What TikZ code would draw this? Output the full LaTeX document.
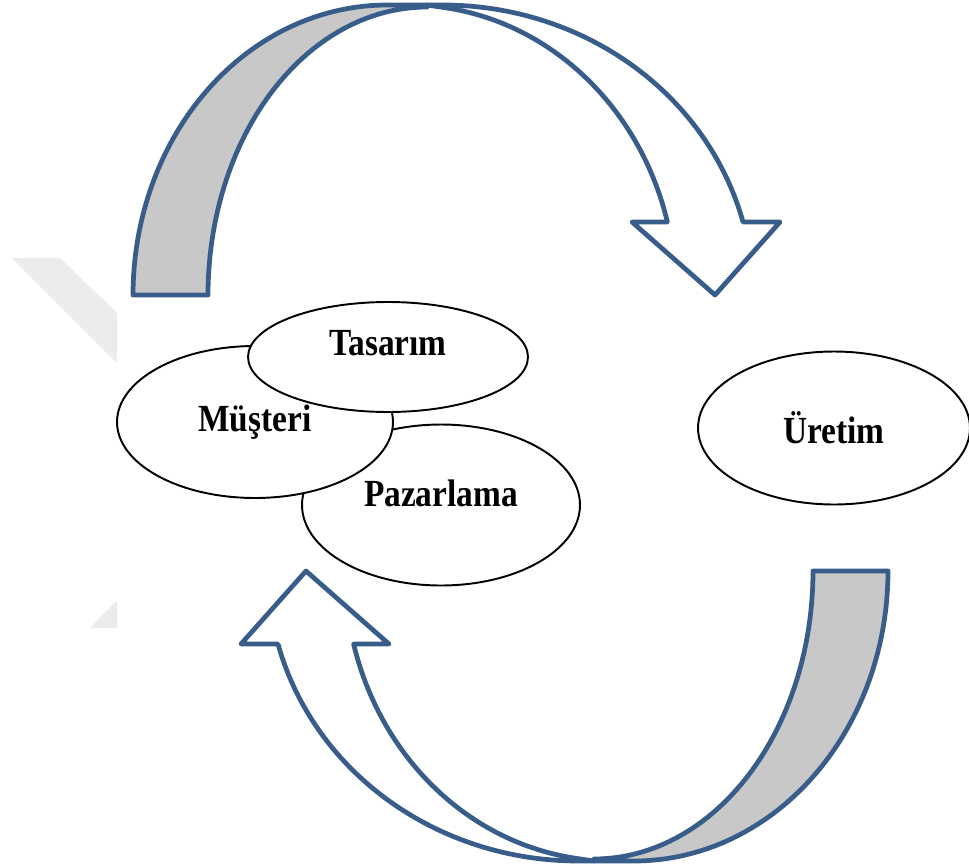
\documentclass[tikz,border=0pt]{standalone}
\usepackage{fontspec}
\setmainfont{Liberation Serif}
\usepackage{graphicx}
\usepackage{tikz}
\usetikzlibrary{shapes.geometric}

\definecolor{arrowblue}{RGB}{56,93,138}
\definecolor{bandgray}{RGB}{200,200,200}
\definecolor{markgray}{RGB}{236,236,236}

\newcommand{\tall}[1]{\scalebox{1}[1.15]{#1}}

% one curved band arrow, the other one is this turned round
\newcommand{\bandarrow}{%
    \draw [band, fill = bandgray] plot [domain = 180:90, variable = \t, samples = 50]
    ({387+254*cos(\t)}, {295-290*sin(\t)}) -- (427,5)
    -- plot [domain = 90:180, variable = \t, samples = 50]
    ({427+219*cos(\t)}, {295-288*sin(\t)}) -- cycle;
    \draw [band, fill = white] (427,5)
    -- plot [domain = 90:14.6, variable = \t, samples = 60]
    ({443+310*cos(\t)}, {295-290*sin(\t)})
    -- (780,222) -- (715,295) -- (632,222)
    -- plot [domain = 14.6:82.7, variable = \t, samples = 60]
    ({409+267*cos(\t)}, {295-290*sin(\t)}) -- cycle;
}

\begin{document}
\begin{tikzpicture}[x = 0.02cm, y = -0.02cm,
    band/.style = {draw = arrowblue, line width = 2.7pt, line join = round},
    oval/.style = {ellipse, draw, fill = white, line width = 1.1pt, inner sep = 0pt,
        font = \fontsize{19}{21}\selectfont\bfseries}]
                \useasboundingbox (0,0) rectangle (969,865);

                \fill [markgray] (12,258) -- (60,258) -- (117,313) -- (117,363) -- cycle;
                \fill [markgray] (117,600) -- (117,628) -- (90,628) -- cycle;

                \bandarrow
                \begin{scope}[rotate around = {180:(510.5,433)}]
                    \bandarrow
                \end{scope}

                \node [oval, minimum width = 5.56cm, minimum height = 3.22cm]
                (pazarlama) at (441,505) {\raisebox{0.48cm}{\tall{Pazarlama}}};
                \node [oval, minimum width = 5.52cm, minimum height = 3.04cm]
                (musteri) at (255,422) {\tall{Müşteri}};
                \node [oval, minimum width = 5.6cm, minimum height = 2.2cm]
                (tasarim) at (388,357) {\raisebox{0.56cm}{\tall{Tasarım}}};
                \node [oval, minimum width = 5.44cm, minimum height = 3.06cm]
                (uretim) at (834,428) {\tall{Üretim}};
\end{tikzpicture}
\end{document}
